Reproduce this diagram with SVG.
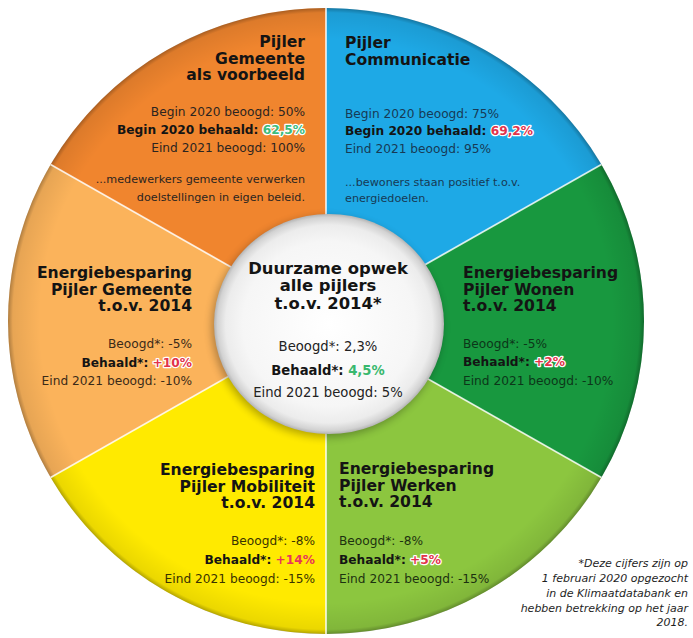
<svg xmlns="http://www.w3.org/2000/svg" width="693" height="638" viewBox="0 0 693 638">
  <defs>
    <radialGradient id="rim" cx="0.5" cy="0.5" r="0.5">
      <stop offset="0.9" stop-color="#000" stop-opacity="0"/>
      <stop offset="0.985" stop-color="#000" stop-opacity="0.08"/>
      <stop offset="1" stop-color="#000" stop-opacity="0.3"/>
    </radialGradient>
    <radialGradient id="hub" cx="0.5" cy="0.5" r="0.5">
      <stop offset="0" stop-color="#ffffff"/>
      <stop offset="0.75" stop-color="#f6f6f6"/>
      <stop offset="0.9" stop-color="#ececec"/>
      <stop offset="0.97" stop-color="#d2d2d2"/>
      <stop offset="1" stop-color="#b4b4b4"/>
    </radialGradient>
    <filter id="shadow" x="-20%" y="-20%" width="140%" height="140%">
      <feGaussianBlur stdDeviation="4"/>
    </filter>
    <style>
      .h { font-family: "DejaVu Sans", "Liberation Sans", sans-serif; font-weight: bold; font-size: 15.6px; fill: #141414; }
      .hc { font-size: 16.4px; }
      .b { font-family: "DejaVu Sans", "Liberation Sans", sans-serif; font-size: 12.2px; fill: #2b2420; }
      .bc { font-size: 13.2px; fill: #222; }
      .bb { font-weight: bold; fill: #141414; }
      .s { font-size: 11.2px; }
      .fn { font-family: "DejaVu Sans", "Liberation Sans", sans-serif; font-style: italic; font-size: 11px; fill: #1e1e1e; }
      .red { fill: #e2334b; stroke: #ffffff; stroke-width: 2.4px; paint-order: stroke; stroke-linejoin: round; }
      .redp { fill: #e8365a; }
      .grn { fill: #3dbb7c; stroke: #ffffff; stroke-width: 2.4px; paint-order: stroke; stroke-linejoin: round; }
      .grnp { fill: #39b86e; }
      .sep { stroke: #ffffff; stroke-opacity: 0.8; stroke-width: 1.8; fill: none; }
      .end { text-anchor: end; }
      .mid { text-anchor: middle; }
    </style>
  </defs>

  <rect width="693" height="638" fill="#ffffff"/>

  <g id="seg-gemeente-voorbeeld">
    <path d="M326,321 L50.6,164.5 A318,313 0 0,1 326,8 Z" fill="#f0852e"/>
    <text class="h end" x="305" y="47">Pijler</text>
    <text class="h end" x="305" y="63.5">Gemeente</text>
    <text class="h end" x="305" y="80">als voorbeeld</text>
    <text class="b end" x="305" y="116">Begin 2020 beoogd: 50%</text>
    <text class="b bb end" x="305" y="134">Begin 2020 behaald: <tspan class="grn">62,5%</tspan></text>
    <text class="b end" x="305" y="152">Eind 2021 beoogd: 100%</text>
    <text class="b s end" x="305" y="183">...medewerkers gemeente verwerken</text>
    <text class="b s end" x="305" y="201">doelstellingen in eigen beleid.</text>
  </g>

  <g id="seg-communicatie">
    <path d="M326,321 L326,8 A318,313 0 0,1 601.4,164.5 Z" fill="#1ea9e6"/>
    <text class="h" x="345" y="48">Pijler</text>
    <text class="h" x="345" y="64.5">Communicatie</text>
    <text class="b" x="345" y="118" style="fill:#173a55">Begin 2020 beoogd: 75%</text>
    <text class="b bb" x="345" y="135">Begin 2020 behaald: <tspan class="red">69,2%</tspan></text>
    <text class="b" x="345" y="153" style="fill:#173a55">Eind 2021 beoogd: 95%</text>
    <text class="b s" x="345" y="186" style="fill:#173a55">...bewoners staan positief t.o.v.</text>
    <text class="b s" x="345" y="202" style="fill:#173a55">energiedoelen.</text>
  </g>

  <g id="seg-wonen">
    <path d="M326,321 L601.4,164.5 A318,313 0 0,1 601.4,477.5 Z" fill="#18983f"/>
    <text class="h" x="463" y="278">Energiebesparing</text>
    <text class="h" x="463" y="294.5">Pijler Wonen</text>
    <text class="h" x="463" y="311">t.o.v. 2014</text>
    <text class="b" x="463" y="348" style="fill:#0c3619">Beoogd*: -5%</text>
    <text class="b bb" x="463" y="366">Behaald*: <tspan class="red">+2%</tspan></text>
    <text class="b" x="463" y="385" style="fill:#0c3619">Eind 2021 beoogd: -10%</text>
  </g>

  <g id="seg-werken">
    <path d="M326,321 L601.4,477.5 A318,313 0 0,1 326,634 Z" fill="#8cc63f"/>
    <text class="h" x="339" y="474">Energiebesparing</text>
    <text class="h" x="339" y="490.5">Pijler Werken</text>
    <text class="h" x="339" y="507">t.o.v. 2014</text>
    <text class="b" x="339" y="545" style="fill:#1d3210">Beoogd*: -8%</text>
    <text class="b bb" x="339" y="564">Behaald*: <tspan class="red">+5%</tspan></text>
    <text class="b" x="339" y="583" style="fill:#1d3210">Eind 2021 beoogd: -15%</text>
  </g>

  <g id="seg-mobiliteit">
    <path d="M326,321 L326,634 A318,313 0 0,1 50.6,477.5 Z" fill="#ffea00"/>
    <text class="h end" x="315" y="475">Energiebesparing</text>
    <text class="h end" x="315" y="491.5">Pijler Mobiliteit</text>
    <text class="h end" x="315" y="508">t.o.v. 2014</text>
    <text class="b end" x="315" y="545" style="fill:#3a3300">Beoogd*: -8%</text>
    <text class="b bb end" x="315" y="564">Behaald*: <tspan class="redp">+14%</tspan></text>
    <text class="b end" x="315" y="583" style="fill:#3a3300">Eind 2021 beoogd: -15%</text>
  </g>

  <g id="seg-gemeente-energie">
    <path d="M326,321 L50.6,477.5 A318,313 0 0,1 50.6,164.5 Z" fill="#fbb35b"/>
    <text class="h end" x="192" y="278">Energiebesparing</text>
    <text class="h end" x="192" y="294.5">Pijler Gemeente</text>
    <text class="h end" x="192" y="311">t.o.v. 2014</text>
    <text class="b end" x="192" y="348" style="fill:#3a2a18">Beoogd*:  -5%</text>
    <text class="b bb end" x="192" y="367">Behaald*: <tspan class="red">+10%</tspan></text>
    <text class="b end" x="192" y="385" style="fill:#3a2a18">Eind 2021 beoogd: -10%</text>
  </g>

  <ellipse cx="326" cy="321" rx="318" ry="313" fill="url(#rim)"/>

  <g id="separators">
    <line class="sep" x1="326" y1="321" x2="326" y2="8"/>
    <line class="sep" x1="326" y1="321" x2="601.4" y2="164.5"/>
    <line class="sep" x1="326" y1="321" x2="601.4" y2="477.5"/>
    <line class="sep" x1="326" y1="321" x2="326" y2="634"/>
    <line class="sep" x1="326" y1="321" x2="50.6" y2="477.5"/>
    <line class="sep" x1="326" y1="321" x2="50.6" y2="164.5"/>
  </g>

  <g id="center">
    <ellipse cx="327" cy="327" rx="115" ry="110" fill="#000" opacity="0.3" filter="url(#shadow)"/>
    <ellipse cx="329" cy="324" rx="115" ry="110" fill="url(#hub)"/>
    <text class="h hc mid" x="328" y="274">Duurzame opwek</text>
    <text class="h hc mid" x="328" y="291.4">alle pijlers</text>
    <text class="h hc mid" x="328" y="308.8">t.o.v. 2014*</text>
    <text class="b bc mid" x="328" y="351">Beoogd*: 2,3%</text>
    <text class="b bc bb mid" x="328" y="375">Behaald*: <tspan class="grnp">4,5%</tspan></text>
    <text class="b bc mid" x="328" y="397">Eind 2021 beoogd: 5%</text>
  </g>

  <g id="footnote">
    <text class="fn end" x="688" y="567">*Deze cijfers zijn op</text>
    <text class="fn end" x="688" y="582">1 februari 2020 opgezocht</text>
    <text class="fn end" x="688" y="597">in de Klimaatdatabank en</text>
    <text class="fn end" x="688" y="612">hebben betrekking op het jaar</text>
    <text class="fn end" x="688" y="626">2018.</text>
  </g>
</svg>
